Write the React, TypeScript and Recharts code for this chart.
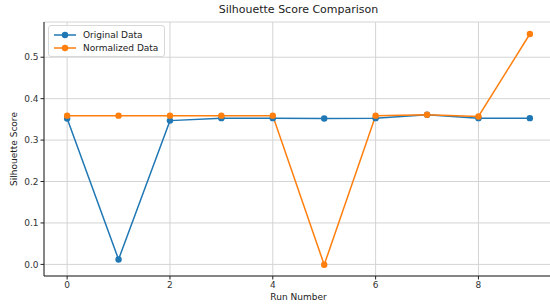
import React from 'react';
import { LineChart, Line, XAxis, YAxis, CartesianGrid } from 'recharts';

const runs = [0, 1, 2, 3, 4, 5, 6, 7, 8, 9];
const originalScores = [0.352, 0.012, 0.347, 0.353, 0.353, 0.352, 0.353, 0.361, 0.353, 0.353];
const normalizedScores = [0.359, 0.359, 0.359, 0.359, 0.359, -0.001, 0.359, 0.361, 0.357, 0.556];
const xTicks = [0, 2, 4, 6, 8];
const yTicks = [0, 0.1, 0.2, 0.3, 0.4, 0.5];

const BLUE = '#1f77b4';
const ORANGE = '#ff7f0e';
const FONT = '"DejaVu Sans", sans-serif';

const data = runs.map((r, i) => ({ run: r, original: originalScores[i], normalized: normalizedScores[i] }));

const legendItems = [
  { label: 'Original Data', color: BLUE },
  { label: 'Normalized Data', color: ORANGE },
];

// legend drawn as plain html so recharts doesn't reserve room for it
const LegendBox = () => (
  <div style={{
    position: 'absolute', left: 48, top: 25, zIndex: 2,
    border: '1px solid #d8d8d8', borderRadius: 3, background: 'rgba(255,255,255,0.85)',
    padding: '2px 6px 2px 4px', fontFamily: FONT, fontSize: 9, color: '#222',
  }}>
    {legendItems.map(it => (
      <div key={it.label} style={{ display: 'flex', alignItems: 'center', height: 13 }}>
        <svg width={24} height={10} style={{ marginRight: 6 }}>
          <line x1={1} y1={5} x2={23} y2={5} stroke={it.color} strokeWidth={1.5} />
          <circle cx={12} cy={5} r={3.2} fill={it.color} />
        </svg>
        <span>{it.label}</span>
      </div>
    ))}
  </div>
);

export default function App() {
  return (
    <div style={{ position: 'absolute', left: 0, top: 0, width: 550, height: 308, overflow: 'hidden', background: '#fff', fontFamily: FONT }}>
      <div style={{ position: 'absolute', left: 0, top: 3, width: 597, textAlign: 'center', fontSize: 11, color: '#222' }}>
        Silhouette Score Comparison
      </div>
      <div style={{ position: 'absolute', left: 0, top: 292, width: 597, textAlign: 'center', fontSize: 9, color: '#222' }}>
        Run Number
      </div>
      <div style={{
        position: 'absolute', left: 14, top: 149, transform: 'translate(-50%, -50%) rotate(-90deg)',
        fontSize: 9, color: '#222', whiteSpace: 'nowrap',
      }}>
        Silhouette Score
      </div>
      <LegendBox />
      <LineChart width={560} height={308} data={data} margin={{ top: 22, right: 7, bottom: 12, left: 0 }}>
        <CartesianGrid stroke="#d4d4d4" strokeWidth={1} />
        <XAxis
          dataKey="run" type="number" domain={[-0.45, 9.45]} ticks={xTicks} allowDataOverflow
          height={20} stroke="#222" tickSize={3.5}
          tick={{ fontSize: 9, fill: '#333', fontFamily: FONT }}
        />
        <XAxis xAxisId="top" orientation="top" dataKey="run" type="number" domain={[-0.45, 9.45]}
          height={0} tick={false} tickLine={false} stroke="#222" />
        <YAxis
          type="number" domain={[-0.028, 0.585]} ticks={yTicks} allowDataOverflow
          width={44} stroke="#222" tickSize={3.5}
          tickFormatter={(v: number) => v.toFixed(1)}
          tick={{ fontSize: 9, fill: '#333', fontFamily: FONT }}
        />
        <Line dataKey="original" stroke={BLUE} strokeWidth={1.5} isAnimationActive={false}
          dot={{ r: 3.2, fill: BLUE, stroke: BLUE, strokeWidth: 0 }} activeDot={false} />
        <Line dataKey="normalized" stroke={ORANGE} strokeWidth={1.5} isAnimationActive={false}
          dot={{ r: 3.2, fill: ORANGE, stroke: ORANGE, strokeWidth: 0 }} activeDot={false} />
      </LineChart>
    </div>
  );
}
